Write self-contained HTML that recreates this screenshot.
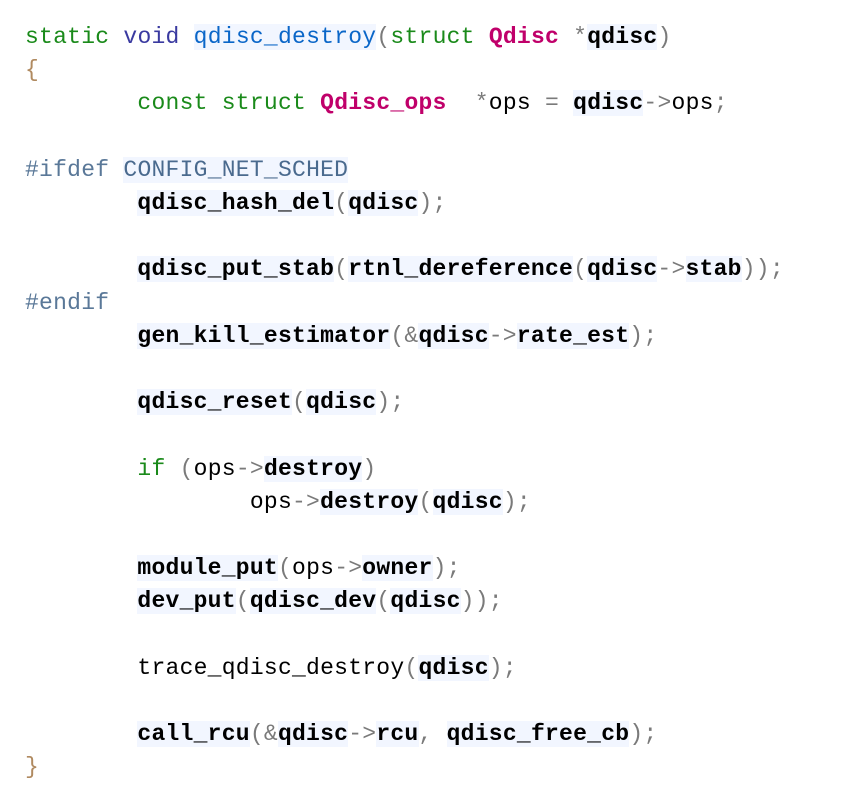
<!DOCTYPE html>
<html><head><meta charset="utf-8"><style>
html,body{margin:0;padding:0;background:#fff;width:865px;height:802px;overflow:hidden}
pre{position:absolute;left:25px;top:21px;margin:0;font-family:"Liberation Mono",monospace;font-size:23px;line-height:33.2px;color:#000;letter-spacing:0.25px}
.k{color:#1a8a1a}.v{color:#3a3aa0}.f{color:#0a66c8;background:#f2f6ff}.t{color:#c0006a;font-weight:bold}
.p{color:#7a7a7a}.b{color:#b08a60}.pp{color:#5a7898}.m{color:#4a6a8e;background:#f2f6ff}
.i{background:#f2f6ff;font-weight:bold}
</style></head><body><pre><span class="k">static</span> <span class="v">void</span> <span class="f">qdisc_destroy</span><span class="p">(</span><span class="k">struct</span> <span class="t">Qdisc</span> <span class="p">*</span><span class="i">qdisc</span><span class="p">)</span>
<span class="b">{</span>
        <span class="k">const</span> <span class="k">struct</span> <span class="t">Qdisc_ops</span>  <span class="p">*</span>ops <span class="p">=</span> <span class="i">qdisc</span><span class="p">-&gt;</span>ops<span class="p">;</span>

<span class="pp">#ifdef</span> <span class="m">CONFIG_NET_SCHED</span>
        <span class="i">qdisc_hash_del</span><span class="p">(</span><span class="i">qdisc</span><span class="p">);</span>

        <span class="i">qdisc_put_stab</span><span class="p">(</span><span class="i">rtnl_dereference</span><span class="p">(</span><span class="i">qdisc</span><span class="p">-&gt;</span><span class="i">stab</span><span class="p">));</span>
<span class="pp">#endif</span>
        <span class="i">gen_kill_estimator</span><span class="p">(&amp;</span><span class="i">qdisc</span><span class="p">-&gt;</span><span class="i">rate_est</span><span class="p">);</span>

        <span class="i">qdisc_reset</span><span class="p">(</span><span class="i">qdisc</span><span class="p">);</span>

        <span class="k">if</span> <span class="p">(</span>ops<span class="p">-&gt;</span><span class="i">destroy</span><span class="p">)</span>
                ops<span class="p">-&gt;</span><span class="i">destroy</span><span class="p">(</span><span class="i">qdisc</span><span class="p">);</span>

        <span class="i">module_put</span><span class="p">(</span>ops<span class="p">-&gt;</span><span class="i">owner</span><span class="p">);</span>
        <span class="i">dev_put</span><span class="p">(</span><span class="i">qdisc_dev</span><span class="p">(</span><span class="i">qdisc</span><span class="p">));</span>

        trace_qdisc_destroy<span class="p">(</span><span class="i">qdisc</span><span class="p">);</span>

        <span class="i">call_rcu</span><span class="p">(&amp;</span><span class="i">qdisc</span><span class="p">-&gt;</span><span class="i">rcu</span><span class="p">,</span> <span class="i">qdisc_free_cb</span><span class="p">);</span>
<span class="b">}</span></pre></body></html>
